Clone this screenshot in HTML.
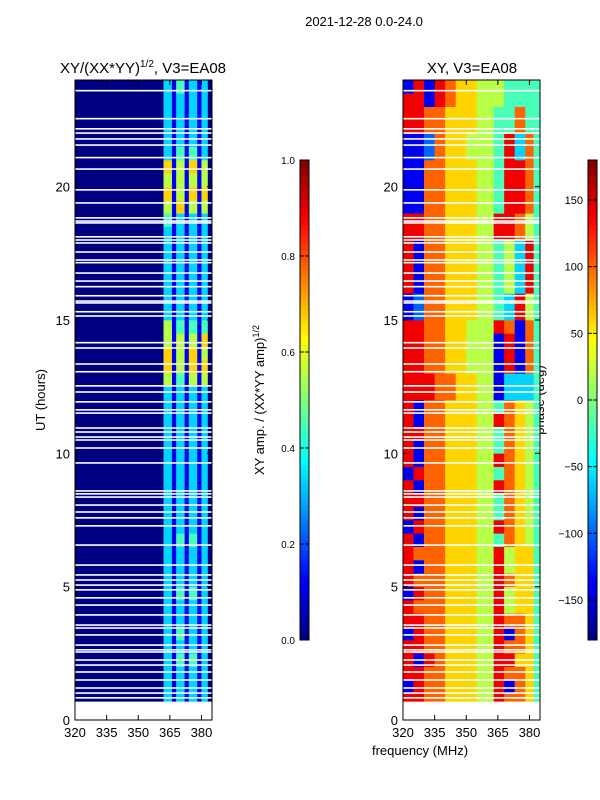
<!DOCTYPE html>
<html><head><meta charset="utf-8">
<style>
body{margin:0;background:#fff;font-family:"Liberation Sans",sans-serif}
svg{display:block}
text{font-family:"Liberation Sans",sans-serif;fill:#000}
</style></head>
<body>
<svg id="fig" width="600" height="800" viewBox="0 0 600 800">
<text x="364" y="26" font-size="13" text-anchor="middle">2021-12-28 0.0-24.0</text>
<text x="143" y="73" font-size="15" text-anchor="middle">XY/(XX*YY)<tspan font-size="10" dy="-6">1/2</tspan><tspan dy="6">, V3=EA08</tspan></text>
<text x="472" y="73" font-size="15" text-anchor="middle">XY, V3=EA08</text>
<text x="45" y="400" font-size="13" text-anchor="middle" transform="rotate(-90 45 400)">UT (hours)</text>
<text x="264" y="400" font-size="13" text-anchor="middle" transform="rotate(-90 264 400)">XY amp. / (XX*YY amp)<tspan font-size="9" dy="-5">1/2</tspan></text>
<text x="544" y="400" font-size="13" text-anchor="middle" transform="rotate(-90 544 400)">phase (deg)</text>
<text x="420" y="755" font-size="13" text-anchor="middle">frequency (MHz)</text>
<g id="g"></g>
</svg>
<script>
// ---- data ----
const ampEdges=[320,362,366,368,372,374,378,380,383,385];
const ampRows=[ // row i covers i*0.5..i*0.5+0.5 h, digit/9
"000000000","031313130","031313130","031313130","031414130","031313130","031413130","031313130",
"031313130","031414130","031313130","031313130","031313130","031414130","031313130","031313130",
"031313130","031313130","031313130","031313130","031313130","031313130","031313130","031313130",
"031313130","051415150","061516160","061516150","051515160","051414140","031313130","031313130",
"031313130","031313130","031313130","031313130","031313130","041313130","051615150","061516160",
"051515150","061516150","031414130","031313130","031313130","031313130","031313130","031413130"];
const phEdges=[320,325,330,335,340,345,350,355,363,368,373,378,382,385];
const phRows=[ // digit d -> -180+40d deg
"0000000000000","8877666587764","1877666581764","8877666587764","8187666588664","8877666587764","1877666581764","8877666587764",
"8777666585664","1877666585664","8777666587664","8177666585664","8777666585664","8177666547654","1877666587654","8177666547654",
"8877666547654","8177666587654","1877666547654","8177666587654","8177666547654","8877666547654","8177666587654","8177666547654",
"8887766513334","8887766513334","8877665518174","8877665518174","8877665518174","8877665587174","1277666543854","1277666543854",
"8177666545384","8177666545384","8177666545384","8177666545384","8877666588754","8877666588754","1177666548874","1177666548874",
"1177666548874","1177666548874","1127665548374","1127665548374","8877666544744","8877666544744","8818766554444","1818766554444"];
const gaps=[23.6,22.55,22.17,22.01,21.79,21.56,21.09,20.66,19.88,19.39,18.83,18.71,18.64,18.12,18.0,17.89,17.55,17.25,17.15,16.76,16.46,16.25,15.91,15.71,15.64,15.31,15.15,14.15,13.95,13.35,13.06,12.53,12.3,11.93,11.63,11.51,10.95,10.8,10.61,10.5,10.2,9.64,8.59,8.48,8.36,8.06,7.8,7.58,7.28,6.56,5.81,5.44,5.25,5.06,4.88,4.58,4.31,3.94,3.56,3.45,3.19,2.81,2.63,2.55,2.25,2.06,1.8,1.5,1.2,1.01,0.83];
const timeStart=0.7;
const yTicks=[0,5,10,15,20];
const xTicks=[320,335,350,365,380];
const ampTicks=[0.0,0.2,0.4,0.6,0.8,1.0];
const phTicks=[-150,-100,-50,0,50,100,150];
// ---- helpers ----
const NS="http://www.w3.org/2000/svg";
const G=document.getElementById('g');
function jet(v){v=Math.max(0,Math.min(1,v));
 const r=Math.max(0,Math.min(1,1.5-Math.abs(4*v-3))),g=Math.max(0,Math.min(1,1.5-Math.abs(4*v-2))),b=Math.max(0,Math.min(1,1.5-Math.abs(4*v-1)));
 return `rgb(${Math.round(r*255)},${Math.round(g*255)},${Math.round(b*255)})`;}
function el(t,a){const e=document.createElementNS(NS,t);for(const k in a)e.setAttribute(k,a[k]);G.appendChild(e);return e;}
const yS=t=>720-t*(640/24);
function panel(x0,edges,rows,valFn,prefix){
 const xS=f=>x0+(f-320)*(137/65);
 rows.forEach((row,i)=>{
  const t0=Math.max(i*0.5,timeStart),t1=i*0.5+0.5; if(t1<=t0)return;
  for(let c=0;c<edges.length-1;c++){
   const r=el('rect',{x:xS(edges[c]),y:yS(t1),width:xS(edges[c+1])-xS(edges[c])+0.3,height:yS(t0)-yS(t1)+0.3,fill:jet(valFn(+row[c]))});
   
   
  }});
 gaps.forEach(t=>{const r=el('rect',{x:x0,y:yS(t)-0.8,width:137,height:1.6,fill:'#fff'});
  
  });
 const fr=el('rect',{x:x0,y:80,width:137,height:640,fill:'none',stroke:'#000','stroke-width':1});
 
 
 yTicks.forEach(v=>{el('line',{x1:x0,x2:x0+5,y1:yS(v),y2:yS(v),stroke:'#000'});el('line',{x1:x0+137,x2:x0+132,y1:yS(v),y2:yS(v),stroke:'#000'});
  const tx=el('text',{x:x0-5,y:yS(v)+5,'font-size':13,'text-anchor':'end'});tx.textContent=v;
  
  });
 xTicks.forEach(v=>{el('line',{x1:xS(v),x2:xS(v),y1:720,y2:715,stroke:'#000'});el('line',{x1:xS(v),x2:xS(v),y1:80,y2:85,stroke:'#000'});
  const tx=el('text',{x:xS(v),y:737,'font-size':13,'text-anchor':'middle'});tx.textContent=v;
  
  });
}
panel(75,ampEdges,ampRows,d=>d/9,'amp');
panel(403,phEdges,phRows,d=>(-180+40*d+180)/360,'phase');
function cbar(x0,vmin,vmax,ticks,fmt,prefix){
 for(let i=0;i<96;i++){const r=el('rect',{x:x0,y:640-(i+1)*5,width:9,height:5.3,fill:jet((i+0.5)/96)});
  
  }
 const fr=el('rect',{x:x0,y:160,width:9,height:480,fill:'none',stroke:'#000'});
 
 
 ticks.forEach(v=>{const y=640-(v-vmin)/(vmax-vmin)*480;
  el('line',{x1:x0+9,x2:x0+5,y1:y,y2:y,stroke:'#000'});
  el('line',{x1:x0,x2:x0+4,y1:y,y2:y,stroke:'#000'});
  const tx=el('text',{x:x0-5,y:y+4,'font-size':prefix=='amp'?10:11,'text-anchor':'end'});tx.textContent=fmt(v);
  
  });
}
cbar(300,0,1,ampTicks,v=>v.toFixed(1),'amp');
cbar(588,-180,180,phTicks,v=>v<0?'\u2212'+(-v):''+v,'phase');
</script>
</body></html>
